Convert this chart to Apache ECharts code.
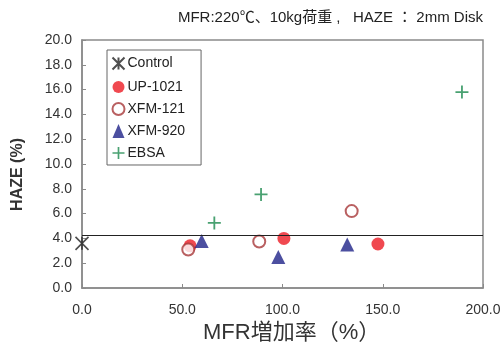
<!DOCTYPE html>
<html><head><meta charset="utf-8">
<script src="https://cdn.jsdelivr.net/npm/echarts@6/dist/echarts.min.js"></script>
<style>html,body{margin:0;padding:0;background:#fff}#c{width:504px;height:349px}</style>
</head><body><div id="c"></div>
<script>
const seriesNames = ['Control', 'UP-1021', 'XFM-121', 'XFM-920', 'EBSA'];
const controlData = [[0, 3.6]];
const up1021Data = [[53.9, 3.4], [100.7, 4.0], [147.6, 3.55]];
const xfm121Data = [[53.0, 3.1], [88.4, 3.75], [134.5, 6.2]];
const xfm920Data = [[59.7, 3.8], [97.9, 2.5], [132.3, 3.5]];
const ebsaData = [[66.0, 5.25], [89.3, 7.55], [189.5, 15.8]];
const referenceLine = 4.25;
const subtitleText = 'MFR:220℃、10kg荷重 ,   HAZE ： 2mm Disk';
const xTitle = 'MFR増加率（%）';
const yTitle = 'HAZE (%)';

const FONT = '"Liberation Sans", Arial, "Noto Sans CJK JP", sans-serif';
const chart = echarts.init(document.getElementById('c'), null, {renderer: 'canvas'});
const starPath = 'path://M0,0L10,10M10,0L0,10M5,0L5,10';
const plusPath = 'path://M4.3,0h1.4v4.3h4.3v1.4h-4.3v4.3h-1.4v-4.3h-4.3v-1.4h4.3z';
chart.setOption({
  animation: false,
  backgroundColor: '#fff',
  textStyle: {fontFamily: FONT},
  grid: {left: 82, right: 21, top: 40, bottom: 61, show: true, borderColor: '#8a8a8a', borderWidth: 1.5},
  graphic: [
    {type: 'text', right: 21, top: 10, style: {text: subtitleText, font: '15px ' + FONT, fill: '#222'}},
    {type: 'text', left: 203, top: 322, style: {text: xTitle, font: '22px ' + FONT, fill: '#333'}},
    {type: 'text', left: 10, top: 138, rotation: Math.PI / 2, style: {text: yTitle, font: 'bold 16px ' + FONT, fill: '#333'}}
  ],
  legend: {
    orient: 'vertical', left: 107, top: 50,
    data: seriesNames,
    itemWidth: 12, itemHeight: 14, itemGap: 8,
    padding: [5, 16, 5, 3],
    borderColor: '#666', borderWidth: 1, backgroundColor: '#fff',
    textStyle: {fontSize: 14, color: '#222', fontFamily: FONT, padding: [0, 0, 0, -2]}
  },
  xAxis: {
    type: 'value', min: 0, max: 200, interval: 50,
    axisLine: {lineStyle: {color: '#8a8a8a', width: 1.5}},
    axisTick: {inside: true, length: 4, lineStyle: {color: '#8a8a8a'}},
    splitLine: {show: false},
    axisLabel: {fontSize: 14, color: '#333', margin: 15, formatter: v => v.toFixed(1)}
  },
  yAxis: {
    type: 'value', min: 0, max: 20, interval: 2,
    axisLine: {show: true, lineStyle: {color: '#8a8a8a', width: 1.5}},
    axisTick: {show: true, inside: true, length: 4, lineStyle: {color: '#8a8a8a'}},
    splitLine: {show: false},
    axisLabel: {fontSize: 14, color: '#333', margin: 10, formatter: v => v.toFixed(1)}
  },
  series: [
    {name: 'Control', type: 'scatter', data: controlData, symbol: starPath, symbolSize: 13,
     itemStyle: {color: 'none', borderColor: '#222', borderWidth: 1.6}, z: 5,
     markLine: {silent: true, symbol: 'none', label: {show: false},
       lineStyle: {color: '#222', width: 1.2, type: 'solid'}, data: [{yAxis: referenceLine}]}},
    {name: 'UP-1021', type: 'scatter', data: up1021Data, symbol: 'circle', symbolSize: 13,
     itemStyle: {color: '#ec1c24'}},
    {name: 'XFM-121', type: 'scatter', data: xfm121Data, symbol: 'emptyCircle', symbolSize: 12,
     itemStyle: {color: '#a8383a', borderWidth: 1.6}},
    {name: 'XFM-920', type: 'scatter', data: xfm920Data, symbol: 'triangle', symbolSize: 14,
     itemStyle: {color: '#1f2388'}},
    {name: 'EBSA', type: 'scatter', data: ebsaData, symbol: plusPath, symbolSize: 13,
     itemStyle: {color: '#1c8a4e'}}
  ]
});
</script></body></html>
